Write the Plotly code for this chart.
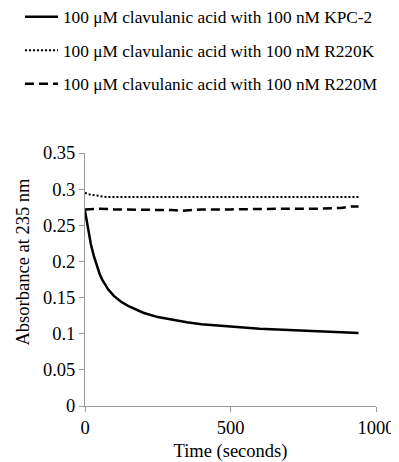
import plotly.graph_objects as go

# Time (seconds)
t_kpc = [0, 5, 10, 15, 20, 30, 40, 50, 60, 80, 100, 125, 150, 200, 250, 300, 350, 400, 450, 500, 600, 700, 800, 900, 940]
abs_kpc = [0.270, 0.258, 0.245, 0.234, 0.224, 0.208, 0.194, 0.183, 0.174, 0.161, 0.152, 0.144, 0.138, 0.129, 0.123,
           0.119, 0.116, 0.113, 0.111, 0.110, 0.107, 0.105, 0.104, 0.102, 0.101]

t_k = [0, 10, 25, 50, 75, 100, 200, 300, 400, 500, 600, 700, 800, 900, 940]
abs_k = [0.295, 0.293, 0.292, 0.290, 0.289, 0.289, 0.289, 0.289, 0.288, 0.289, 0.289, 0.288, 0.289, 0.288, 0.289]

t_m = [0, 50, 100, 200, 300, 330, 400, 500, 600, 700, 800, 880, 910, 940]
abs_m = [0.272, 0.273, 0.272, 0.272, 0.271, 0.270, 0.272, 0.272, 0.273, 0.273, 0.273, 0.274, 0.276, 0.276]

names = ["100 \u03bcM clavulanic acid with 100 nM KPC-2",
         "100 \u03bcM clavulanic acid with 100 nM R220K",
         "100 \u03bcM clavulanic acid with 100 nM R220M"]

y_ticks = [0, 0.05, 0.1, 0.15, 0.2, 0.25, 0.3, 0.35]
y_ticktext = ["0", "0.05", "0.1", "0.15", "0.2", "0.25", "0.3", "0.35"]
x_ticks = [0, 500, 1000]

FONT = "Liberation Serif"
FS_LEG = 17.3
FS = 18.5

fig = go.Figure()
fig.add_trace(go.Scatter(x=t_kpc, y=abs_kpc, mode="lines", name=names[0], legendgroup="a",
                         line=dict(color="black", width=2.5)))
fig.add_trace(go.Scatter(x=t_k, y=abs_k, mode="lines", name=names[1], legendgroup="b",
                         line=dict(color="black", width=2, dash="2px,2px")))
fig.add_trace(go.Scatter(x=t_m, y=abs_m, mode="lines", name=names[2], legendgroup="c",
                         line=dict(color="black", width=2.5, dash="9px,5px")))

fig.add_annotation(text="Absorbance at 235 nm", textangle=-90, x=0, y=0.5, xref="paper", yref="paper",
                   xshift=-75, yshift=18, showarrow=False, font=dict(family=FONT, size=FS, color="black"))

fig.update_layout(
    width=399, height=462,
    margin=dict(l=77, r=31, t=145, b=64, autoexpand=False),
    paper_bgcolor="white", plot_bgcolor="white",
    font=dict(family=FONT, size=FS, color="black"),
    showlegend=True,
    legend=dict(x=0.03, y=1.609, xref="container", yref="paper", xanchor="left", yanchor="top",
                tracegroupgap=8, itemwidth=33, font=dict(family=FONT, size=FS_LEG, color="black"),
                bgcolor="rgba(0,0,0,0)"),
    xaxis=dict(range=[0, 1000], tickvals=x_ticks, showgrid=False, zeroline=False,
               showline=True, linecolor="#999999", linewidth=1, ticks="outside", ticklen=5,
               tickcolor="#999999", tickfont=dict(family=FONT, size=FS), ticklabeloverflow="allow",
               title=dict(text="Time (seconds)", font=dict(family=FONT, size=FS), standoff=6)),
    yaxis=dict(range=[0, 0.35], tickvals=y_ticks, ticktext=y_ticktext,
               showgrid=False, zeroline=False, showline=True, linecolor="#999999", linewidth=1,
               ticks="outside", ticklen=5, tickcolor="#999999", tickfont=dict(family=FONT, size=FS)),
)

fig.write_html("out.html")
